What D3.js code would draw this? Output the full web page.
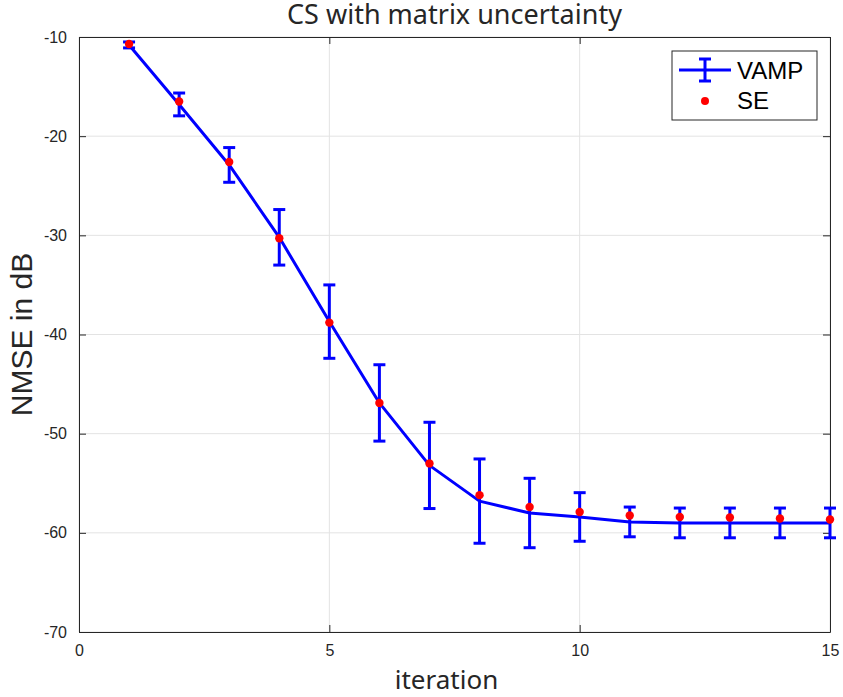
<!DOCTYPE html>
<html>
<head>
<meta charset="utf-8">
<script src="https://cdn.jsdelivr.net/npm/d3@7"></script>
<style>
  body { margin: 0; background: #fff; }
  svg text { font-family: "Liberation Sans", sans-serif; }
  svg text.humanist { font-family: "Noto Sans", sans-serif; }
</style>
</head>
<body>
<svg id="chart" width="843" height="697"></svg>
<script>
// values
const iterations = [1, 2, 3, 4, 5, 6, 7, 8, 9, 10, 11, 12, 13, 14, 15];
const vampMean = [-10.8, -16.8, -22.9, -30.2, -38.7, -46.9, -53.2, -56.8, -58.0, -58.4, -58.9, -59.0, -59.0, -59.0, -59.0];
const vampErr = [0.3, 1.15, 1.75, 2.8, 3.7, 3.85, 4.35, 4.25, 3.5, 2.45, 1.5, 1.5, 1.5, 1.5, 1.5];
const seValues = [-10.7, -16.5, -22.6, -30.3, -38.8, -46.9, -53.0, -56.2, -57.4, -57.9, -58.25, -58.4, -58.45, -58.55, -58.65];
const xTicks = [0, 5, 10, 15];
const yTicks = [-70, -60, -50, -40, -30, -20, -10];
const seriesNames = ["VAMP", "SE"];

let svg = d3.select("svg#chart");
let plotLeft = 79, plotRight = 830, plotTop = 37, plotBottom = 632;

let x = d3.scaleLinear().domain([0, 15]).range([plotLeft, plotRight]);
let y = d3.scaleLinear().domain([-70, -10]).range([plotBottom, plotTop]);

// grid
svg.append("g").selectAll("line")
    .data(xTicks)
    .join("line")
    .attr("x1", d => x(d)).attr("x2", d => x(d))
    .attr("y1", plotTop).attr("y2", plotBottom)
    .attr("stroke", "#e3e3e3").attr("stroke-width", 1);

svg.append("g").selectAll("line")
    .data(yTicks)
    .join("line")
    .attr("x1", plotLeft).attr("x2", plotRight)
    .attr("y1", d => y(d)).attr("y2", d => y(d))
    .attr("stroke", "#e3e3e3").attr("stroke-width", 1);

// axes, ticks pointing in, box all round
let tick = 7;
let fmt = d => String(d);   // plain hyphen, not the unicode minus
svg.append("g").attr("transform", "translate(0," + plotBottom + ")")
    .call(d3.axisBottom(x).tickValues(xTicks).tickFormat(fmt).tickSizeInner(-tick).tickSizeOuter(0).tickPadding(13))
    .call(g => g.selectAll("text").attr("font-size", 16).attr("fill", "#262626"));
svg.append("g").attr("transform", "translate(0," + plotTop + ")")
    .call(d3.axisTop(x).tickValues(xTicks).tickSizeInner(-tick).tickSizeOuter(0).tickFormat(""));
svg.append("g").attr("transform", "translate(" + plotLeft + ",0)")
    .call(d3.axisLeft(y).tickValues(yTicks).tickFormat(fmt).tickSizeInner(-tick).tickSizeOuter(0).tickPadding(12))
    .call(g => g.selectAll("text").attr("font-size", 16).attr("fill", "#262626"));
svg.append("g").attr("transform", "translate(" + plotRight + ",0)")
    .call(d3.axisRight(y).tickValues(yTicks).tickSizeInner(-tick).tickSizeOuter(0).tickFormat(""));

svg.selectAll(".domain").attr("stroke", "#262626");
svg.selectAll(".tick line").attr("stroke", "#262626");

let blue = "#0000ff", red = "#ff0000";
let data = iterations.map((it, i) => ({it: it, mean: vampMean[i], err: vampErr[i], se: seValues[i]}));

// VAMP line
svg.append("path")
    .datum(data)
    .attr("fill", "none")
    .attr("stroke", blue)
    .attr("stroke-width", 3)
    .attr("stroke-linejoin", "round")
    .attr("d", d3.line().x(d => x(d.it)).y(d => y(d.mean)));

// error bars
let capW = 6;
let bars = svg.append("g").attr("stroke", blue).attr("stroke-width", 3);
bars.selectAll("line.v")
    .data(data).join("line").attr("class", "v")
    .attr("x1", d => x(d.it)).attr("x2", d => x(d.it))
    .attr("y1", d => y(d.mean + d.err)).attr("y2", d => y(d.mean - d.err));
bars.selectAll("line.t")
    .data(data).join("line").attr("class", "t")
    .attr("x1", d => x(d.it) - capW).attr("x2", d => x(d.it) + capW)
    .attr("y1", d => y(d.mean + d.err)).attr("y2", d => y(d.mean + d.err));
bars.selectAll("line.b")
    .data(data).join("line").attr("class", "b")
    .attr("x1", d => x(d.it) - capW).attr("x2", d => x(d.it) + capW)
    .attr("y1", d => y(d.mean - d.err)).attr("y2", d => y(d.mean - d.err));

// SE dots
svg.append("g").selectAll("circle")
    .data(data).join("circle")
    .attr("cx", d => x(d.it)).attr("cy", d => y(d.se))
    .attr("r", 4.2).attr("fill", red);

// title and labels
svg.append("text").attr("class", "humanist")
    .attr("x", (plotLeft + plotRight) / 2).attr("y", 24)
    .attr("text-anchor", "middle").attr("font-size", 27).attr("fill", "#262626")
    .text("CS with matrix uncertainty");
svg.append("text").attr("class", "humanist")
    .attr("x", (plotLeft + plotRight) / 2 - 8).attr("y", 689)
    .attr("text-anchor", "middle").attr("font-size", 26).attr("fill", "#262626")
    .text("iteration");
svg.append("text")
    .attr("transform", "translate(32," + (plotTop + plotBottom) / 2 + ") rotate(-90)")
    .attr("text-anchor", "middle").attr("font-size", 30).attr("fill", "#262626")
    .text("NMSE in dB");

// legend
let lg = svg.append("g").attr("transform", "translate(672,51)");
lg.append("rect").attr("width", 145).attr("height", 69)
    .attr("fill", "#fff").attr("stroke", "#262626").attr("stroke-width", 1);
lg.append("line").attr("x1", 7).attr("x2", 59).attr("y1", 19).attr("y2", 19)
    .attr("stroke", blue).attr("stroke-width", 3);
lg.append("line").attr("x1", 33).attr("x2", 33).attr("y1", 8).attr("y2", 30)
    .attr("stroke", blue).attr("stroke-width", 3);
lg.append("line").attr("x1", 27).attr("x2", 39).attr("y1", 8).attr("y2", 8)
    .attr("stroke", blue).attr("stroke-width", 3);
lg.append("line").attr("x1", 27).attr("x2", 39).attr("y1", 30).attr("y2", 30)
    .attr("stroke", blue).attr("stroke-width", 3);
lg.append("circle").attr("cx", 33).attr("cy", 50).attr("r", 4).attr("fill", red);
lg.selectAll("text.lab")
    .data(seriesNames).join("text").attr("class", "lab")
    .attr("x", 65).attr("y", (d, i) => 28 + i * 30)
    .attr("font-size", 24).attr("fill", "#000")
    .text(d => d);
</script>
</body>
</html>
